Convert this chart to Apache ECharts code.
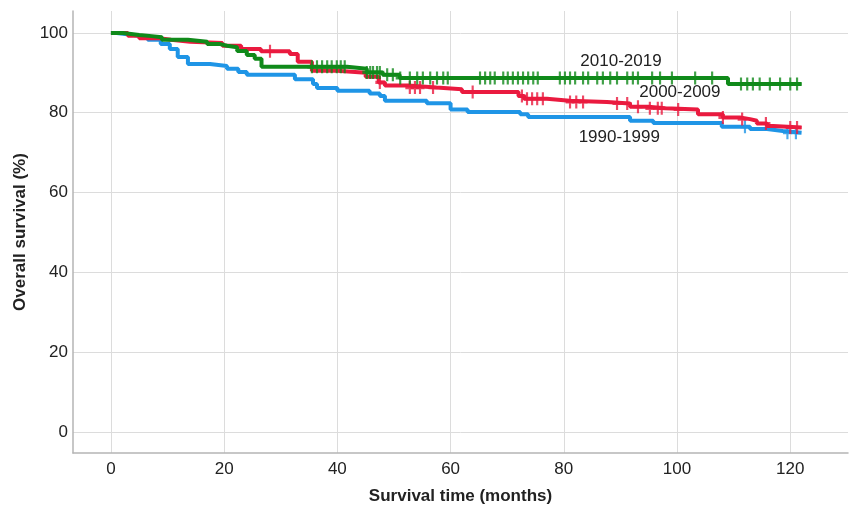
<!DOCTYPE html>
<html>
<head>
<meta charset="utf-8">
<script src="https://cdn.jsdelivr.net/npm/echarts@6/dist/echarts.min.js"></script>
<style>
  html, body { margin: 0; padding: 0; background: #fff; }
  #chart { width: 849px; height: 510px; }
</style>
</head>
<body>
<div id="chart"></div>
<script>
// Kaplan-Meier steps: [month, survival %] after each event
const curve1990 = [
  [0, 100], [1, 99.5], [4, 99], [6.5, 98.3], [8.8, 97.2], [10.4, 96], [11.8, 94],
  [13.6, 92.2], [17.5, 91.7], [20.5, 91], [22.5, 90.2], [24, 89.5], [32.5, 88.4],
  [35.7, 87.2], [36.4, 86.2], [40, 85.5], [45.7, 84.8], [47.5, 84.2], [48.4, 83],
  [55.8, 82.4], [60, 80.8], [63, 80.2], [72.3, 79.6], [73.7, 78.9], [91.7, 78],
  [95.8, 77.4], [107.9, 76.5], [112.9, 75.9], [115.9, 75.4], [118.7, 75], [122, 75]
];
const curve2000 = [
  [0, 100], [3, 99.3], [5, 98.7], [8.5, 98.3], [10.6, 97.8], [14, 97.5], [19.7, 96.8],
  [23, 96], [26.5, 95.4], [31.6, 94.7], [33, 92.8], [35.5, 90.5], [40, 90], [45, 89],
  [47.3, 87.6], [48.4, 86.8], [52.5, 86.3], [57.5, 85.9], [62, 85.2], [72, 84.2],
  [73, 83.5], [77, 83], [81, 82.7], [87.6, 82.3], [91.7, 81.5], [94.9, 81.1],
  [97.9, 80.8], [103.7, 79.6], [108.1, 78.8], [111.1, 78.4], [112.9, 78], [114.1, 77.3],
  [115.9, 76.7], [117, 76.3], [122, 76.3]
];
const curve2010 = [
  [0, 100], [2.1, 99.5], [5, 99.2], [7.2, 98.9], [9, 98.3], [13.6, 97.8], [17, 97.2],
  [19.3, 96.8], [20.5, 96.4], [22.3, 95.5], [24, 94.5], [25.4, 93.5], [26.6, 91.5],
  [41.7, 91], [45.2, 90.1], [48, 89.5], [51, 88.7], [109, 87.2], [122, 87.2]
];

// censored observations (months)
const censor1990 = [112, 119.5, 121];
const censor2000 = [
  28.1, 47.5, 52.8, 53.7, 54.6, 56.9, 63.9, 72.6, 73.5, 74.4, 75.3, 76.3, 81.1, 82.2,
  83.4, 89.4, 91.2, 93.1, 95.2, 96.6, 97.3, 100.2, 108.1, 111.5, 115.7, 120, 121.2
];
const censor2010 = [
  35.5, 36.4, 37.3, 38.2, 39, 39.9, 40.6, 41.3, 45.2, 45.8, 46.3, 47, 47.5, 48.8, 49.8,
  51.1, 52.8, 54.1, 55.1, 56.4, 57.6, 58.7, 59.5, 65.2, 66.1, 67, 67.8, 69.3, 70.1, 71,
  71.9, 72.8, 73.7, 74.6, 75.4, 79.3, 80.2, 81.1, 82, 83.4, 84.3, 85.9, 86.9, 88.2, 89.4,
  91.2, 92.2, 93.1, 95.6, 97, 99.1, 103.2, 106.2, 111.3, 112.4, 113.4, 114.6, 116.4,
  118.2, 120, 121.2
];

const groupNames = ['1990-1999', '2000-2009', '2010-2019'];
// label anchors [month, %]
const labelAnchors = [[89.8, 73.9], [100.5, 85.2], [90.1, 93]];

const colors = ['#1f95e6', '#ea1a3f', '#108a1a'];
const plusPath = 'path://M3.8,0H6.2V3.8H10V6.2H6.2V10H3.8V6.2H0V3.8H3.8Z';

function survivalAt(curve, t) {
  let s = curve[0][1];
  for (const p of curve) {
    if (p[0] <= t) s = p[1];
  }
  return s;
}

const curves = [curve1990, curve2000, curve2010];
const censors = [censor1990, censor2000, censor2010];

const series = [];
curves.forEach((c, i) => {
  series.push({
    name: groupNames[i],
    type: 'line',
    step: 'end',
    data: c,
    showSymbol: false,
    lineStyle: { color: colors[i], width: 4 },
    z: 2 + i
  });
});
censors.forEach((c, i) => {
  series.push({
    name: groupNames[i] + ' censored',
    type: 'scatter',
    data: c.map(t => [t, survivalAt(curves[i], t)]),
    symbol: plusPath,
    symbolSize: [9, 13],
    itemStyle: { color: colors[i] },
    z: 2 + i
  });
});

const chart = echarts.init(document.getElementById('chart'));

const axisFont = { fontFamily: 'Liberation Sans, Arial, sans-serif', fontSize: 17, color: '#222' };

chart.setOption({
  animation: false,
  grid: { left: 73, right: 1, top: 11, bottom: 57 },
  xAxis: {
    type: 'value',
    min: -6.7,
    max: 130.2,
    splitNumber: 7,
    name: 'Survival time (months)',
    nameLocation: 'middle',
    nameGap: 35,
    nameTextStyle: Object.assign({}, axisFont, { fontWeight: 'bold' }),
    axisLine: { show: true, onZero: false, lineStyle: { color: '#b5b5b5', width: 1.5 } },
    axisTick: { show: false },
    axisLabel: Object.assign({}, axisFont, { margin: 8, showMinLabel: false, showMaxLabel: false }),
    splitLine: { show: true, showMinLine: false, showMaxLine: false, lineStyle: { color: '#dcdcdc', width: 1 } }
  },
  yAxis: {
    type: 'value',
    min: -5.3,
    max: 105.5,
    splitNumber: 6,
    name: 'Overall survival (%)',
    nameLocation: 'middle',
    nameGap: 38,
    nameTextStyle: Object.assign({}, axisFont, { fontWeight: 'bold' }),
    axisLine: { show: true, onZero: false, lineStyle: { color: '#b5b5b5', width: 1.5 } },
    axisTick: { show: false },
    axisLabel: Object.assign({}, axisFont, { margin: 5, showMinLabel: false, showMaxLabel: false }),
    splitLine: { show: true, showMinLine: false, showMaxLine: false, lineStyle: { color: '#dcdcdc', width: 1 } }
  },
  series: series
});

// group labels placed in data coordinates
const graphics = labelAnchors.map((a, i) => {
  const p = chart.convertToPixel({ gridIndex: 0 }, a);
  return {
    type: 'text',
    x: p[0],
    y: p[1],
    z: 10,
    style: {
      text: groupNames[i],
      fill: '#222',
      font: '17px "Liberation Sans", Arial, sans-serif',
      align: 'center',
      verticalAlign: 'middle'
    }
  };
});
chart.setOption({ graphic: graphics });
</script>
</body>
</html>
